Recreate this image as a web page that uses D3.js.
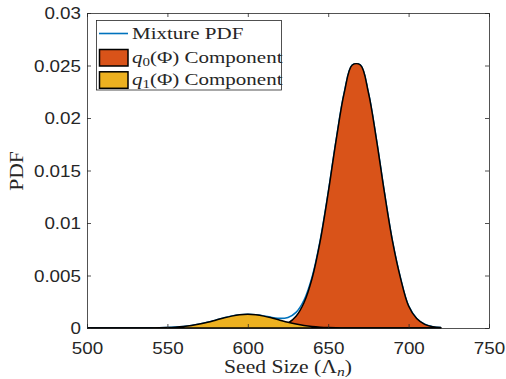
<!DOCTYPE html>
<html><head><meta charset="utf-8">
<script src="https://cdn.jsdelivr.net/npm/d3@7"></script>
<style>html,body{margin:0;padding:0;background:#fff;}svg{display:block;}</style>
</head><body>
<script>
const xVals = [500,505,510,515,520,525,530,535,540,545,550,555,560,565,570,575,580,585,590,595,600,605,610,615,620,625,630,635,640,645,650,655,660,665,670,675,680,685,690,695,700,705,710,715,720];
const q0Vals = [0,0,0,0,0,0,0,0,0,0,0,0,0,0,0,0,0,0,0,0,0,
  0.000004,0.000016,0.000056,0.000169,0.000459,0.001116,0.00243,0.00473,0.00825,0.01286,0.01795,0.02242,0.02505,0.02505,0.02242,0.01795,0.01286,0.00825,0.00473,0.0021,0.0009,0.00035,0.00012,0.00004];
const q1Vals = [0,0,0,0,0,0,0.0000015,0.000004,
  0.0000089,0.0000197,0.0000407,0.000079,0.000142,0.000238,0.000374,0.000547,0.000747,0.000952,0.001132,0.001256,0.0013,0.001256,0.001132,0.000952,0.000747,0.000547,0.000374,0.000238,0.000142,0.000079,0.0000407,0.0000197,0.0000089,0.000004,0.0000015,
  0,0,0,0,0,0,0,0,0,0];
const mixVals = [0,0,0,0,0,0,
  0.0000015,0.000004,0.0000089,0.0000197,0.0000407,0.000079,0.000142,0.000238,0.000374,0.000547,
  0.000747,0.000952,0.001132,0.001256,0.0013,0.00126,0.001148,0.001008,0.000916,0.001006,
  0.00149,0.002668,0.004872,0.008329,0.0129,0.01797,0.02243,0.02505,0.02505,0.02242,
  0.01795,0.01286,0.00825,0.00473,0.0021,0.0009,0.00035,0.00012,0.00004];
const xTicks = [500,550,600,650,700,750];
const yTicks = [0,0.005,0.01,0.015,0.02,0.025,0.03];
const seriesNames = ["Mixture PDF","Component","Component"];

const W = 506, H = 379;
const L = 87, R = 489, T = 13, B = 328;
const axisCol = "#262626";
const sansSX = 1.14, serifSX = 1.2;

const svg = d3.select("body").append("svg").attr("width", W).attr("height", H);
const x = d3.scaleLinear().domain([500, 750]).range([L, R]);
const y = d3.scaleLinear().domain([0, 0.03]).range([B, T]);

const curve = d3.curveCatmullRom.alpha(0.5);
const pts = (vals) => xVals.map((xv, i) => [xv, vals[i]]);

const line = d3.line().x(d => x(d[0])).y(d => y(d[1])).curve(curve);
const area = d3.area().x(d => x(d[0])).y0(y(0)).y1(d => y(d[1])).curve(curve);

svg.append("defs").append("clipPath").attr("id", "clip")
  .append("rect").attr("x", L).attr("y", T).attr("width", R - L).attr("height", B - T + 1);
const plot = svg.append("g").attr("clip-path", "url(#clip)");

plot.append("path").datum(pts(mixVals)).attr("d", line)
  .attr("fill", "none").attr("stroke", "#0072BD").attr("stroke-width", 1.6);
plot.append("path").datum(pts(q0Vals)).attr("d", area)
  .attr("fill", "#D95319").attr("stroke", "#000").attr("stroke-width", 1.5).attr("stroke-linejoin", "round");
plot.append("path").datum(pts(q1Vals)).attr("d", area)
  .attr("fill", "#EDB120").attr("stroke", "#000").attr("stroke-width", 1.5).attr("stroke-linejoin", "round");

// axes
const yFmt = d => d === 0 ? "0" : String(+d.toFixed(3));
function styleAxis(g) {
  g.selectAll(".domain").attr("stroke", axisCol).attr("stroke-width", 0.8);
  g.selectAll(".tick line").attr("stroke", axisCol).attr("stroke-width", 0.8);
}
const gB = svg.append("g").attr("transform", `translate(0,${B})`)
  .call(d3.axisBottom(x).tickValues(xTicks).tickSizeInner(-4).tickSizeOuter(0).tickFormat(d3.format("d")));
const gT = svg.append("g").attr("transform", `translate(0,${T})`)
  .call(d3.axisTop(x).tickValues(xTicks).tickSizeInner(-4).tickSizeOuter(0).tickFormat(""));
const gL = svg.append("g").attr("transform", `translate(${L},0)`)
  .call(d3.axisLeft(y).tickValues(yTicks).tickSizeInner(-4).tickSizeOuter(0).tickFormat(yFmt));
const gR = svg.append("g").attr("transform", `translate(${R},0)`)
  .call(d3.axisRight(y).tickValues(yTicks).tickSizeInner(-4).tickSizeOuter(0).tickFormat(""));
[gB, gT, gL, gR].forEach(styleAxis);

gB.selectAll(".tick text")
  .attr("font-family", "'Liberation Sans', Arial, sans-serif").attr("font-size", 16.5)
  .attr("fill", axisCol).attr("y", 0).attr("dy", 0)
  .attr("transform", `translate(0,26) scale(${sansSX},1)`);
gL.selectAll(".tick text")
  .attr("font-family", "'Liberation Sans', Arial, sans-serif").attr("font-size", 16.5)
  .attr("fill", axisCol).attr("x", 0).attr("dy", "0.36em")
  .attr("transform", `translate(-6,0) scale(${sansSX},1)`);
[gT, gR, gB, gL].forEach(g => g.selectAll(".tick text").filter(function(){return this.textContent === "";}).remove());

const serif = "'Liberation Serif', 'Times New Roman', serif";
// x label
const xl = svg.append("text").attr("font-family", serif).attr("font-size", 18).attr("fill", axisCol)
  .attr("text-anchor", "middle").attr("transform", `translate(288,373) scale(${serifSX},1)`);
xl.append("tspan").text("Seed Size (Λ");
xl.append("tspan").attr("font-style", "italic").attr("font-size", 13).attr("dy", 3).text("n");
xl.append("tspan").attr("dy", -3).text(")");

// y label
svg.append("text").attr("font-family", serif).attr("font-size", 18).attr("fill", axisCol)
  .attr("text-anchor", "middle")
  .attr("transform", `translate(23,171) rotate(-90) scale(${serifSX},1)`)
  .text("PDF");

// legend
const lg = svg.append("g");
lg.append("rect").attr("x", 96.5).attr("y", 20.5).attr("width", 185).attr("height", 69.5)
  .attr("fill", "#fff").attr("stroke", axisCol).attr("stroke-width", 0.8);
lg.append("line").attr("x1", 99).attr("x2", 128).attr("y1", 33.5).attr("y2", 33.5)
  .attr("stroke", "#0072BD").attr("stroke-width", 1.6);
lg.append("rect").attr("x", 99.5).attr("y", 49.5).attr("width", 28.5).attr("height", 16.5)
  .attr("fill", "#D95319").attr("stroke", "#000").attr("stroke-width", 1.5);
lg.append("rect").attr("x", 99.5).attr("y", 71.8).attr("width", 28.5).attr("height", 16.5)
  .attr("fill", "#EDB120").attr("stroke", "#000").attr("stroke-width", 1.5);

function legendText(yb, parts) {
  const t = lg.append("text").attr("font-family", serif).attr("font-size", 17.5).attr("fill", axisCol)
    .attr("transform", `translate(132,${yb}) scale(${serifSX},1)`);
  parts(t);
}
legendText(38.5, t => t.append("tspan").text(seriesNames[0]));
legendText(62.5, t => {
  t.append("tspan").attr("font-style", "italic").text("q");
  t.append("tspan").attr("font-size", 12.5).attr("dy", 3).text("0");
  t.append("tspan").attr("dy", -3).text("(Φ) " + seriesNames[1]);
});
legendText(85, t => {
  t.append("tspan").attr("font-style", "italic").text("q");
  t.append("tspan").attr("font-size", 12.5).attr("dy", 3).text("1");
  t.append("tspan").attr("dy", -3).text("(Φ) " + seriesNames[2]);
});
</script>
</body></html>
